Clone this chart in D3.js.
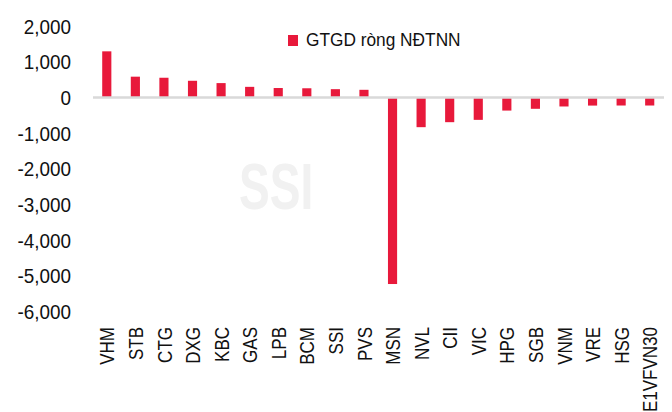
<!DOCTYPE html>
<html>
<head>
<meta charset="utf-8">
<script src="https://cdn.jsdelivr.net/npm/d3@7"></script>
<style>
  body { margin: 0; background: #fff; }
  text { font-family: "Liberation Sans", Arial, sans-serif; }
</style>
</head>
<body>
<div id="chart"></div>
<script>
var svgWidth = 672;
var svgHeight = 412;

// tickers and net foreign trading value (bn VND)
var tickers = ["VHM", "STB", "CTG", "DXG", "KBC", "GAS", "LPB", "BCM", "SSI", "PVS",
  "MSN", "NVL", "CII", "VIC", "HPG", "SGB", "VNM", "VRE", "HSG", "E1VFVN30"];
var netValues = [1290, 580, 550, 465, 400, 295, 262, 255, 230, 212,
  -5230, -835, -695, -630, -370, -320, -255, -230, -228, -228];
var yTicks = [2000, 1000, 0, -1000, -2000, -3000, -4000, -5000, -6000];
var seriesName = "GTGD ròng NĐTNN";

// no narrow font installed, so squeeze Liberation Sans sideways
var narrow = 0.81;
var fmt = d3.formatLocale({decimal: ".", thousands: ",", grouping: [3], currency: ["", ""], minus: "-"}).format(",");

var svg = d3.select("#chart")
  .append("svg")
  .attr("width", svgWidth)
  .attr("height", svgHeight);

var x = d3.scaleBand()
  .domain(tickers)
  .range([92.5, 664])
  .paddingInner(0.68)
  .paddingOuter(0.34);

var y = d3.scaleLinear()
  .domain([-6000, 2000])
  .range([311.5, 26]);

// watermark
svg.append("text")
  .attr("transform", "translate(239,209) scale(0.72,1)")
  .attr("font-size", 64)
  .attr("font-weight", "bold")
  .attr("fill", "#f1f1f1")
  .text("SSI");

// y axis labels
svg.selectAll(".ytick")
  .data(yTicks)
  .enter()
  .append("text")
  .attr("class", "ytick")
  .attr("transform", d => `translate(71,${y(d)}) scale(0.9,1)`)
  .attr("dy", "0.36em")
  .attr("text-anchor", "end")
  .attr("font-size", 21)
  .attr("fill", "#111")
  .text(d => fmt(d));

// bars
svg.selectAll(".bar")
  .data(tickers)
  .enter()
  .append("rect")
  .attr("class", "bar")
  .attr("x", d => x(d))
  .attr("width", x.bandwidth())
  .attr("y", (d, i) => y(Math.max(0, netValues[i])))
  .attr("height", (d, i) => Math.abs(y(netValues[i]) - y(0)))
  .attr("fill", "#e8193b");

// zero line
svg.append("line")
  .attr("x1", 93)
  .attr("x2", 664)
  .attr("y1", y(0))
  .attr("y2", y(0))
  .attr("stroke", "#d9d9d9")
  .attr("stroke-width", 2.5);

// category labels, rotated
svg.selectAll(".cat")
  .data(tickers)
  .enter()
  .append("text")
  .attr("class", "cat")
  .attr("transform", d => `translate(${x(d) + x.bandwidth() / 2},327) rotate(-90) scale(${narrow},1)`)
  .attr("dy", "0.36em")
  .attr("text-anchor", "end")
  .attr("font-size", 21)
  .attr("fill", "#111")
  .text(d => d);

// legend
var legend = svg.append("g").attr("transform", "translate(288,35)");
legend.append("rect")
  .attr("width", 10)
  .attr("height", 11)
  .attr("fill", "#e8193b");
legend.append("text")
  .attr("transform", "translate(18,11) scale(0.91,1)")
  .attr("font-size", 19)
  .attr("fill", "#111")
  .text(seriesName);
</script>
</body>
</html>
